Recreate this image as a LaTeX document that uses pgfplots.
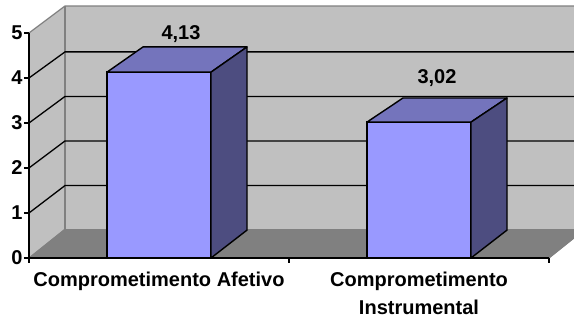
\documentclass[border=0pt]{standalone}
\usepackage{fontspec}
\setmainfont{Liberation Sans}
\usepackage{pgfplots}
\pgfplotsset{compat=1.18}
\definecolor{wall}{HTML}{C0C0C0}
\definecolor{floorc}{HTML}{808080}
\definecolor{edgec}{HTML}{808080}
\definecolor{barfront}{HTML}{9999FF}
\definecolor{bartop}{HTML}{7474BC}
\definecolor{barside}{HTML}{4D4D80}
\begin{document}
\begin{tikzpicture}
\begin{axis}[
 scale only axis, width=520pt, height=225pt,
 xmin=0,xmax=520,ymin=0,ymax=5,
 axis lines=left, axis line style={-, line width=1.5pt, black},
 clip=false, axis on top,
 ytick={0,...,5}, yticklabels={0,1,2,3,4,5},
 xtick={0,260,520}, xticklabels={},
 tick align=outside, major tick length=5pt, tick style={black, line width=1.2pt},
 extra x ticks={130,390},
 extra x tick labels={Comprometimento Afetivo, {Comprometimento\\Instrumental}},
 extra x tick style={major tick length=0pt},
 tick label style={font=\fontsize{20}{28}\selectfont\bfseries},
 xticklabel style={align=center, yshift=-10pt},
 yticklabel style={xshift=2pt},
]
\coordinate (bl) at (axis cs:-29,-1.4);
\coordinate (tr) at (axis cs:545,5.7333);
% walls
\addplot[fill=wall, draw=none] coordinates {(0,0)(0,5)(36,5.6)(36,0.64)} -- cycle;
\addplot[fill=wall, draw=none] coordinates {(36,0.64)(36,5.6)(556,5.6)(556,0.64)} -- cycle;
\addplot[fill=floorc, draw=none] coordinates {(0,0)(520,0)(556,0.64)(36,0.64)} -- cycle;
% wall edges
\addplot[edgec, line width=1.2pt] coordinates {(0,5)(36,5.6)(556,5.6)};
\addplot[edgec, line width=1.2pt] coordinates {(36,5.6)(36,0.64)(556,0.64)};
\addplot[edgec, line width=1.2pt] coordinates {(0,0)(36,0.64)};
\addplot[edgec, line width=1.2pt] coordinates {(520,0)(556,0.64)};
% gridlines
\addplot[black, line width=1.3pt] coordinates {(0,1)(36,1.61)(556,1.61)};
\addplot[black, line width=1.3pt] coordinates {(0,2)(36,2.60)(556,2.60)};
\addplot[black, line width=1.3pt] coordinates {(0,3)(36,3.59)(556,3.59)};
\addplot[black, line width=1.3pt] coordinates {(0,4)(36,4.58)(556,4.58)};
% bars: front faces
\addplot[ybar, bar width=104, fill=barfront, draw=black, line width=1.4pt] coordinates {(130,4.13)(390,3.02)};
% bar 1 top and side
\addplot[fill=bartop, draw=black, line width=1.4pt, line join=round] coordinates {(78,4.13)(182,4.13)(218,4.69)(114,4.69)} -- cycle;
\addplot[fill=barside, draw=black, line width=1.4pt, line join=round] coordinates {(182,0)(182,4.13)(218,4.69)(218,0.62)} -- cycle;
% bar 2 top and side
\addplot[fill=bartop, draw=black, line width=1.4pt, line join=round] coordinates {(338,3.02)(442,3.02)(478,3.556)(374,3.556)} -- cycle;
\addplot[fill=barside, draw=black, line width=1.4pt, line join=round] coordinates {(442,0)(442,3.02)(478,3.556)(478,0.62)} -- cycle;
% value labels
\node[font=\fontsize{20}{24}\selectfont\bfseries] at (axis cs:152,4.98) {4,13};
\node[font=\fontsize{20}{24}\selectfont\bfseries] at (axis cs:408,4.0) {3,02};
\end{axis}
\pgfresetboundingbox
\path[use as bounding box] (bl) rectangle (tr);
\end{tikzpicture}
\end{document}
